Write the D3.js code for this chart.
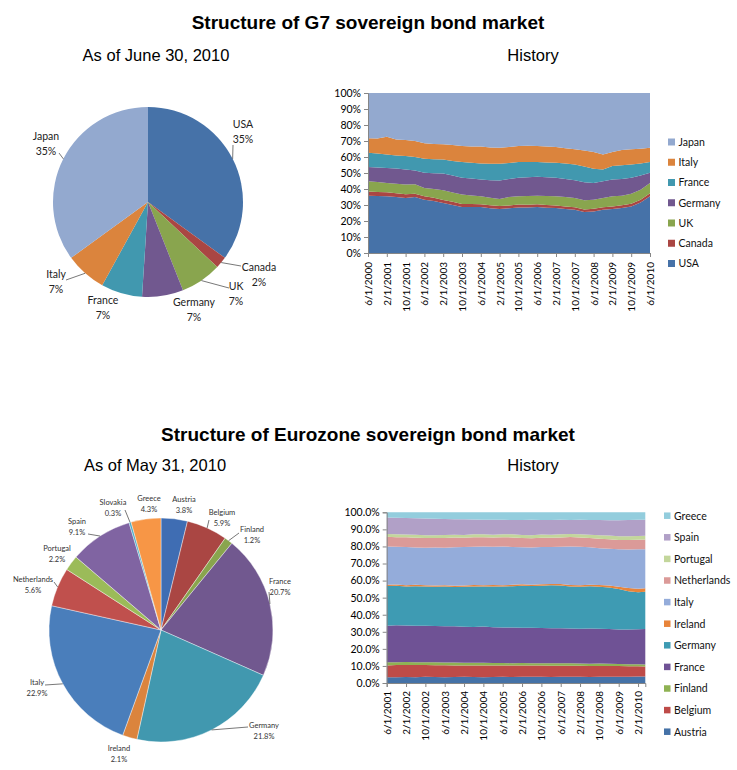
<!DOCTYPE html>
<html><head><meta charset="utf-8">
<script src="https://cdn.jsdelivr.net/npm/d3@7"></script>
<style>
body{margin:0;background:#fff;}
svg text{font-family:Lato,"Open Sans","Liberation Sans",sans-serif;}
</style></head><body>
<svg id="c" width="737" height="770"></svg>
<script>
// ===== DATA: G7 =====
const g7Names = ["USA","Canada","UK","Germany","France","Italy","Japan"];
const g7PieValues = [35,2,7,7,7,7,35];
const g7PieLabels = ["35%","2%","7%","7%","7%","7%","35%"];
const g7Dates = ["6/1/2000","10/1/2000","2/1/2001","6/1/2001","10/1/2001","2/1/2002","6/1/2002","10/1/2002","2/1/2003","6/1/2003","10/1/2003","2/1/2004","6/1/2004","10/1/2004","2/1/2005","6/1/2005","10/1/2005","2/1/2006","6/1/2006","10/1/2006","2/1/2007","6/1/2007","10/1/2007","2/1/2008","6/1/2008","10/1/2008","2/1/2009","6/1/2009","10/1/2009","2/1/2010","6/1/2010"];
const g7USA     = [35.8,35.6,35.4,35.0,34.4,35.0,33.3,32.5,31.2,30.0,28.7,28.7,28.7,28.0,27.5,27.9,28.5,28.5,28.7,28.3,28.1,27.5,27.0,25.6,26.0,27.0,27.5,28.1,29.1,31.5,35.4];
const g7Canada  = [2.6,2.6,2.5,2.4,2.3,2.1,2.1,2.0,2.0,2.0,2.0,1.9,1.8,1.8,1.8,1.8,1.8,1.7,1.7,1.7,1.6,1.6,1.6,1.6,1.6,1.6,1.6,1.7,1.7,1.8,1.9];
const g7UK      = [6.5,6.2,5.9,5.9,6.1,5.9,5.3,5.5,6.0,5.8,5.8,5.4,4.9,4.7,4.5,5.3,5.1,5.4,5.4,5.6,5.7,5.9,5.8,5.7,5.7,5.8,6.3,6.0,6.3,6.3,6.4];
const g7Germany = [8.8,9.1,9.4,9.5,9.4,8.5,9.4,9.8,10.5,10.7,10.5,10.5,10.5,11.0,11.5,11.3,11.6,11.7,11.8,11.7,11.6,11.3,11.1,11.3,10.5,10.5,10.5,10.5,9.9,8.8,6.5];
const g7France  = [9.0,8.7,8.4,8.2,8.4,8.5,8.8,8.8,8.8,9.0,9.8,9.9,10.1,10.3,10.5,10.0,9.8,9.5,9.2,9.3,9.4,9.7,9.8,9.8,8.8,7.3,8.4,8.6,8.3,7.6,6.6];
const g7Italy   = [9.0,9.3,11.0,10.0,10.0,10.0,9.7,9.6,9.4,10.0,10.1,10.2,10.5,10.2,10.0,9.9,10.1,10.2,10.1,10.0,9.8,9.5,9.5,10.0,10.5,9.3,8.8,9.5,9.5,9.2,9.0];
const g7Japan   = [28.3,28.5,27.4,29.0,29.4,30.0,31.4,31.8,32.1,32.5,33.1,33.4,33.5,34.0,34.2,33.8,33.1,33.0,33.1,33.4,33.8,34.5,35.2,36.0,36.9,38.5,36.9,35.6,35.2,34.8,34.2];
const g7TickLabels = ["6/1/2000","2/1/2001","10/1/2001","6/1/2002","2/1/2003","10/1/2003","6/1/2004","2/1/2005","10/1/2005","6/1/2006","2/1/2007","10/1/2007","6/1/2008","2/1/2009","10/1/2009","6/1/2010"];
const g7YTicks = [0,0.1,0.2,0.3,0.4,0.5,0.6,0.7,0.8,0.9,1.0];

// ===== DATA: Eurozone =====
const ezPieNames = ["Austria","Belgium","Finland","France","Germany","Ireland","Italy","Netherlands","Portugal","Spain","Slovakia","Greece"];
const ezPieValues = [3.8,5.9,1.2,20.7,21.8,2.1,22.9,5.6,2.2,9.1,0.3,4.3];
const ezPieLabels = ["3.8%","5.9%","1.2%","20.7%","21.8%","2.1%","22.9%","5.6%","2.2%","9.1%","0.3%","4.3%"];
const ezNames = ["Austria","Belgium","Finland","France","Germany","Ireland","Italy","Netherlands","Portugal","Spain","Greece"];
const ezDates = ["6/1/2001","10/1/2001","2/1/2002","6/1/2002","10/1/2002","2/1/2003","6/1/2003","10/1/2003","2/1/2004","6/1/2004","10/1/2004","2/1/2005","6/1/2005","10/1/2005","2/1/2006","6/1/2006","10/1/2006","2/1/2007","6/1/2007","10/1/2007","2/1/2008","6/1/2008","10/1/2008","2/1/2009","6/1/2009","10/1/2009","2/1/2010","5/1/2010"];
const ezAustria     = [3.3,3.4,3.5,3.3,3.6,3.5,3.4,3.5,3.6,3.5,3.4,3.5,3.6,3.5,3.6,3.7,3.6,3.5,3.6,3.7,3.6,3.5,3.6,3.7,3.6,3.7,3.8,3.8];
const ezBelgium     = [7.0,7.1,7.0,7.2,6.9,6.9,7.0,6.8,6.7,6.8,6.9,6.7,6.6,6.7,6.6,6.5,6.6,6.6,6.5,6.4,6.5,6.5,6.4,6.3,6.3,6.1,6.0,5.9];
const ezFinland     = [1.8,1.7,1.8,1.7,1.6,1.7,1.6,1.7,1.6,1.5,1.6,1.5,1.5,1.4,1.5,1.4,1.4,1.5,1.4,1.4,1.3,1.3,1.4,1.3,1.3,1.2,1.2,1.2];
const ezFrance      = [21.5,21.6,21.4,21.3,21.5,21.3,21.2,21.3,21.1,21.0,21.2,20.9,20.8,20.9,20.6,20.7,20.6,20.5,20.6,20.5,20.4,20.6,20.4,20.3,20.2,20.4,20.5,20.7];
const ezGermany     = [23.2,23.1,22.9,23.2,22.9,23.0,23.3,22.9,23.4,23.8,23.4,24.0,24.0,24.2,24.7,24.5,24.8,25.1,25.0,24.5,24.6,24.8,24.6,24.4,23.6,22.4,21.6,21.8];
const ezIreland     = [0.8,0.8,0.7,0.8,0.8,0.7,0.8,0.8,0.7,0.8,0.8,0.8,0.7,0.8,0.8,0.8,0.8,0.8,0.9,0.9,0.9,0.9,1.0,1.1,1.4,1.8,2.1,2.1];
const ezItaly       = [22.4,22.1,22.3,21.9,22.0,22.3,22.0,22.5,22.5,22.4,22.6,22.4,22.7,22.2,21.7,21.8,21.8,21.7,21.8,22.5,22.5,21.9,21.5,21.5,21.9,22.6,23.1,22.9];
const ezNetherlands = [5.7,5.6,5.8,5.7,5.6,5.5,5.6,5.7,5.5,5.6,5.5,5.4,5.5,5.6,5.5,5.4,5.5,5.4,5.5,5.6,5.5,5.4,5.6,5.6,5.5,5.6,5.6,5.6];
const ezPortugal    = [1.6,1.7,1.6,1.7,1.6,1.7,1.8,1.7,1.6,1.7,1.8,1.7,1.7,1.8,1.7,1.8,1.9,1.8,1.9,1.8,1.9,2.0,2.1,2.2,2.1,2.2,2.2,2.2];
const ezSpain       = [9.7,9.7,9.6,9.7,9.8,9.6,9.4,9.1,9.2,8.7,8.5,8.7,8.5,8.4,8.8,9.0,8.5,8.6,8.4,8.2,8.4,8.6,8.9,9.0,9.5,9.5,9.5,9.5];
const ezGreece      = [3.0,3.2,3.4,3.5,3.7,3.8,3.9,4.0,4.1,4.2,4.3,4.4,4.4,4.5,4.5,4.4,4.5,4.5,4.4,4.5,4.4,4.5,4.5,4.6,4.6,4.5,4.4,4.3];
const ezTickLabels = ["6/1/2001","2/1/2002","10/1/2002","6/1/2003","2/1/2004","10/1/2004","6/1/2005","2/1/2006","10/1/2006","6/1/2007","2/1/2008","10/1/2008","6/1/2009","2/1/2010"];
const ezYTicks = [0,0.1,0.2,0.3,0.4,0.5,0.6,0.7,0.8,0.9,1.0];

// ===== STYLE / LAYOUT =====
const g7Colors = {USA:"#4672A8",Canada:"#AA4643",UK:"#89A54E",Germany:"#71588F",France:"#4198AF",Italy:"#DB843D",Japan:"#93A9CF"};
const ezPieColors = {Austria:"#3F6DB3",Belgium:"#AA4643",Finland:"#89A54E",France:"#71588F",Germany:"#4198AF",Ireland:"#DB843D",Italy:"#4A7EBB",Netherlands:"#C0504D",Portugal:"#9BBB59",Spain:"#8064A2",Slovakia:"#4BACC6",Greece:"#F79646"};
const ezAreaColors = {Austria:"#4572A7",Belgium:"#BE4B48",Finland:"#8FB253",France:"#6F5295",Germany:"#3E9BB3",Ireland:"#E8843A",Italy:"#94ACDA",Netherlands:"#DB9A98",Portugal:"#C3D69B",Spain:"#B1A0C7",Greece:"#93CDDD"};

// label layout: [x, y of first line, attach x, attach y or null]
const g7LabelLayout = {
  USA:[243,128,233,145], Canada:[259,271,241,266], UK:[236,290,229,288],
  Germany:[194,306,null,null], France:[103,304,null,null], Italy:[56,278,66,280], Japan:[46,140,59,153]
};
const ezLabelLayout = {
  Austria:[184,502,null,null], Belgium:[222,515,209,520], Finland:[252,532,239,533],
  France:[280,584,269,592], Germany:[264,728,248,727], Ireland:[119,751,null,null],
  Italy:[37,685,45,685], Netherlands:[33,582,54,582], Portugal:[57,551,null,null],
  Spain:[77,524,88,534], Slovakia:[113,505,125,510], Greece:[149,501,null,null]
};

const svg = d3.select("#c");

function addText(x,y,str,size,opts={}){
  const t = svg.append("text").attr("x",x).attr("y",y).text(str)
    .style("font-size",size+"px").attr("text-anchor",opts.anchor||"middle")
    .attr("fill",opts.fill||"#000");
  if(opts.family) t.style("font-family",opts.family);
  if(opts.weight) t.style("font-weight",opts.weight);
  return t;
}

// titles
const arial = '"Liberation Sans", Arial, sans-serif';
addText(368,29,"Structure of G7 sovereign bond market",19,{family:arial,weight:"bold"});
addText(156,61,"As of June 30, 2010",16.5,{family:arial});
addText(533,61,"History",16.5,{family:arial});
addText(368,441,"Structure of Eurozone sovereign bond market",19,{family:arial,weight:"bold"});
addText(155,471,"As of May 31, 2010",16.5,{family:arial});
addText(533,471,"History",16.5,{family:arial});

function drawPie(cx,cy,r,names,values,labels,colors,layout,fs,gap,lblFill,strokeW){
  const pie = d3.pie().sort(null).value(d=>d.v);
  const arcs = pie(names.map((n,i)=>({n,v:values[i],l:labels[i]})));
  const arc = d3.arc().innerRadius(0).outerRadius(r);
  const g = svg.append("g").attr("transform",`translate(${cx},${cy})`);
  g.selectAll("path").data(arcs).join("path").attr("d",arc)
    .attr("fill",d=>colors[d.data.n]).attr("stroke","#fff").attr("stroke-width",strokeW);
  arcs.forEach(a=>{
    const L = layout[a.data.n];
    const mid = (a.startAngle+a.endAngle)/2;
    if(L[2]!==null){
      const ex = cx + Math.sin(mid)*r, ey = cy - Math.cos(mid)*r;
      svg.append("line").attr("x1",L[2]).attr("y1",L[3]).attr("x2",ex).attr("y2",ey)
        .attr("stroke","#555").attr("stroke-width",0.8);
    }
    addText(L[0],L[1],a.data.n,fs,{fill:lblFill});
    addText(L[0],L[1]+gap,a.data.l,fs,{fill:lblFill});
  });
}

drawPie(148,202,95,g7Names,g7PieValues,g7PieLabels,g7Colors,g7LabelLayout,10.5,14.5,"#222",0);
drawPie(161,630,112,ezPieNames,ezPieValues,ezPieLabels,ezPieColors,ezLabelLayout,7.5,10.5,"#333",0.4);

function monthIndex(s){ const p=s.split("/"); return (+p[2])*12 + (+p[0]-1); }

function drawStack(o){
  const rows = o.dates.map((d,i)=>{ const r={m:monthIndex(d)}; o.names.forEach((n,k)=>r[n]=o.series[k][i]); return r; });
  const stack = d3.stack().keys(o.names).offset(d3.stackOffsetExpand)(rows);
  const x = d3.scaleLinear().domain([rows[0].m, rows[rows.length-1].m]).range([o.x0,o.x1]);
  const y = d3.scaleLinear().domain([0,1]).range([o.y1,o.y0]);
  const area = d3.area().x(d=>x(d.data.m)).y0(d=>y(d[0])).y1(d=>y(d[1]));
  svg.append("g").selectAll("path").data(stack).join("path")
    .attr("d",area).attr("fill",d=>o.colors[d.key]);
  const ya = svg.append("g").attr("transform",`translate(${o.x0},0)`)
    .call(d3.axisLeft(y).tickValues(o.yTicks).tickFormat(o.yFmt).tickSize(4).tickPadding(3));
  ya.select(".domain").attr("stroke","#868686");
  ya.selectAll(".tick line").attr("stroke","#868686");
  ya.selectAll("text").style("font-size",o.yfs+"px").attr("fill","#000").style("font-family",'Lato,"Open Sans",sans-serif');
  const tickMs = o.tickLabels.map(monthIndex);
  const xa = svg.append("g").attr("transform",`translate(0,${o.y1})`)
    .call(d3.axisBottom(x).tickValues(tickMs).tickFormat((m,i)=>o.tickLabels[i]).tickSize(4));
  xa.select(".domain").attr("stroke","#868686");
  xa.selectAll(".tick line").attr("stroke","#868686");
  xa.selectAll("text").attr("transform","rotate(-90)").attr("x",-o.xlOff).attr("y",0).attr("dy","0.35em")
    .style("text-anchor","end").style("font-size",o.xfs+"px").attr("fill","#000")
    .style("font-family",'Lato,"Open Sans",sans-serif');
  o.legendOrder.forEach((n,i)=>{
    const cy = o.ly0 + i*o.ldy;
    svg.append("rect").attr("x",o.lx).attr("y",cy-o.sq/2).attr("width",o.sq).attr("height",o.sq).attr("fill",o.colors[n]);
    addText(o.lx+o.sq+3.5,cy+3.8,n,o.lfs,{anchor:"start",fill:"#111"});
  });
}

drawStack({
  dates:g7Dates, names:g7Names, series:[g7USA,g7Canada,g7UK,g7Germany,g7France,g7Italy,g7Japan],
  colors:g7Colors, x0:368, x1:650, y0:93, y1:253,
  yTicks:g7YTicks, yFmt:d3.format(".0%"), yfs:10.5,
  tickLabels:g7TickLabels, xfs:10, xlOff:9,
  legendOrder:["Japan","Italy","France","Germany","UK","Canada","USA"],
  lx:668, ly0:142, ldy:20.25, sq:7, lfs:10.5
});

drawStack({
  dates:ezDates, names:ezNames,
  series:[ezAustria,ezBelgium,ezFinland,ezFrance,ezGermany,ezIreland,ezItaly,ezNetherlands,ezPortugal,ezSpain,ezGreece],
  colors:ezAreaColors, x0:386.7, x1:645.3, y0:512.3, y1:683,
  yTicks:ezYTicks, yFmt:d3.format(".1%"), yfs:10.5,
  tickLabels:ezTickLabels, xfs:10, xlOff:8,
  legendOrder:["Greece","Spain","Portugal","Netherlands","Italy","Ireland","Germany","France","Finland","Belgium","Austria"],
  lx:664, ly0:515.7, ldy:21.6, sq:6.5, lfs:10.5
});
</script>
</body></html>
